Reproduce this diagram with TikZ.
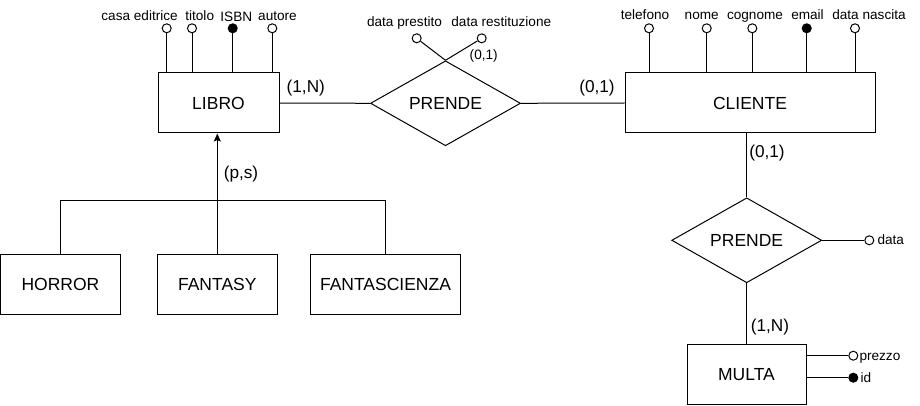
\documentclass[tikz,border=0pt]{standalone}
\usepackage{fontspec}
\setmainfont{Liberation Sans}
\usetikzlibrary{shapes.geometric,arrows.meta}
\begin{document}
\begin{tikzpicture}[x=1pt,y=-1pt,line width=1pt,
  ent/.style={draw,rectangle,inner sep=0pt,minimum height=60pt,font=\fontsize{17.5}{20}\selectfont},
  rel/.style={draw,diamond,inner sep=0pt,minimum width=150pt,minimum height=80pt,font=\fontsize{17.5}{20}\selectfont},
  attr/.style={draw,circle,inner sep=0pt,minimum size=9pt,fill=white},
  key/.style={attr,fill=black},
  lbl/.style={font=\fontsize{13.6}{16}\selectfont,inner sep=0pt,anchor=base},
  card/.style={font=\fontsize{17.2}{20}\selectfont,inner sep=0pt},
  scard/.style={font=\fontsize{13.6}{16}\selectfont,inner sep=0pt}]
\useasboundingbox (0,0) rectangle (920,406);

% entities
\node[ent,minimum width=121pt] (libro) at (218.5,103) {LIBRO};
\node[ent,minimum width=250pt] (cliente) at (750,103) {CLIENTE};
\node[ent,minimum width=120pt] (horror) at (60.5,284) {HORROR};
\node[ent,minimum width=120pt] (fantasy) at (217.3,284) {FANTASY};
\node[ent,minimum width=150pt] (fantasc) at (385.5,284) {FANTASCIENZA};
\node[ent,minimum width=119pt,minimum height=59.5pt] (multa) at (746.5,374.7) {MULTA};

% relationships
\node[rel] (prende1) at (445.5,103.3) {PRENDE};
\node[rel] (prende2) at (746.7,240.3) {PRENDE};

% connectors
\draw (libro.east) -- (prende1.west);
\draw (prende1.east) -- (cliente.west);
\draw (prende2.north |- cliente.south) -- (prende2.north);
\draw (prende2.south) -- (prende2.south |- multa.north);

% generalization
\coordinate (bar) at (0,200.7);
\draw[-{Stealth[length=8pt,width=7pt,inset=1.5pt]}] (fantasy.north) -- (fantasy.north |- libro.south);
\draw (horror.north) -- (horror.north |- bar) -- (fantasc.north |- bar) -- (fantasc.north);

% LIBRO attributes
\node[attr] (la1) at (166.7,28.3) {};
\node[attr] (la2) at (192,28.3) {};
\node[key]  (la3) at (232.7,28.3) {};
\node[attr] (la4) at (272.3,28.3) {};
\foreach \a in {la1,la2,la3,la4} \draw (\a.south) -- (\a.south |- libro.north);
\node[lbl] (ll1) at (139.6,20.7) {casa editrice};
\node[lbl] (ll2) at (199.7,20.7) {titolo};
\node[lbl] (ll3) at (236.3,22) {ISBN};
\node[lbl] (ll4) at (277.5,20.7) {autore};

% PRENDE attributes
\node[attr] (dp) at (416.7,38.3) {};
\node[attr] (dr) at (481.7,38.3) {};
\draw (dp) -- (prende1.north);
\draw (dr) -- (prende1.north);
\node[lbl] (ldp) at (404.5,26.7) {data prestito};
\node[lbl] (ldr) at (501.3,26.7) {data restituzione};
\node[scard] (cdr) at (483.7,55.5) {(0,1)};

% CLIENTE attributes
\node[attr] (ca1) at (649,28.3) {};
\node[attr] (ca2) at (706.7,28.3) {};
\node[attr] (ca3) at (752.3,28.3) {};
\node[key]  (ca4) at (806.7,28.3) {};
\node[attr] (ca5) at (855,28.3) {};
\foreach \a in {ca1,ca2,ca3,ca4,ca5} \draw (\a.south) -- (\a.south |- cliente.north);
\node[lbl] (cl1) at (645,20) {telefono};
\node[lbl] (cl2) at (701.7,20) {nome};
\node[lbl] (cl3) at (755,20) {cognome};
\node[lbl] (cl4) at (807.5,20) {email};
\node[lbl] (cl5) at (869,20) {data nascita};

% PRENDE 2 attribute
\node[attr] (dt) at (869.3,240.3) {};
\draw (prende2.east) -- (dt);
\node[lbl,anchor=base west] (ldt) at (877,244.3) {data};

% MULTA attributes
\node[attr] (pz) at (853.3,355.7) {};
\node[key]  (id) at (853.3,377.7) {};
\draw (multa.east |- pz) -- (pz);
\draw (multa.east |- id) -- (id);
\node[lbl,anchor=base west] (lpz) at (859,360.5) {prezzo};
\node[lbl,anchor=base west] (lid) at (860,382.3) {id};

% cardinalities
\node[card] (c1) at (305.8,88.5) {(1,N)};
\node[card] (c2) at (597,88.5) {(0,1)};
\node[card] (c3) at (767,153) {(0,1)};
\node[card] (c4) at (770,326.7) {(1,N)};
\node[card] (c5) at (241,174.5) {(p,s)};
\end{tikzpicture}
\end{document}
